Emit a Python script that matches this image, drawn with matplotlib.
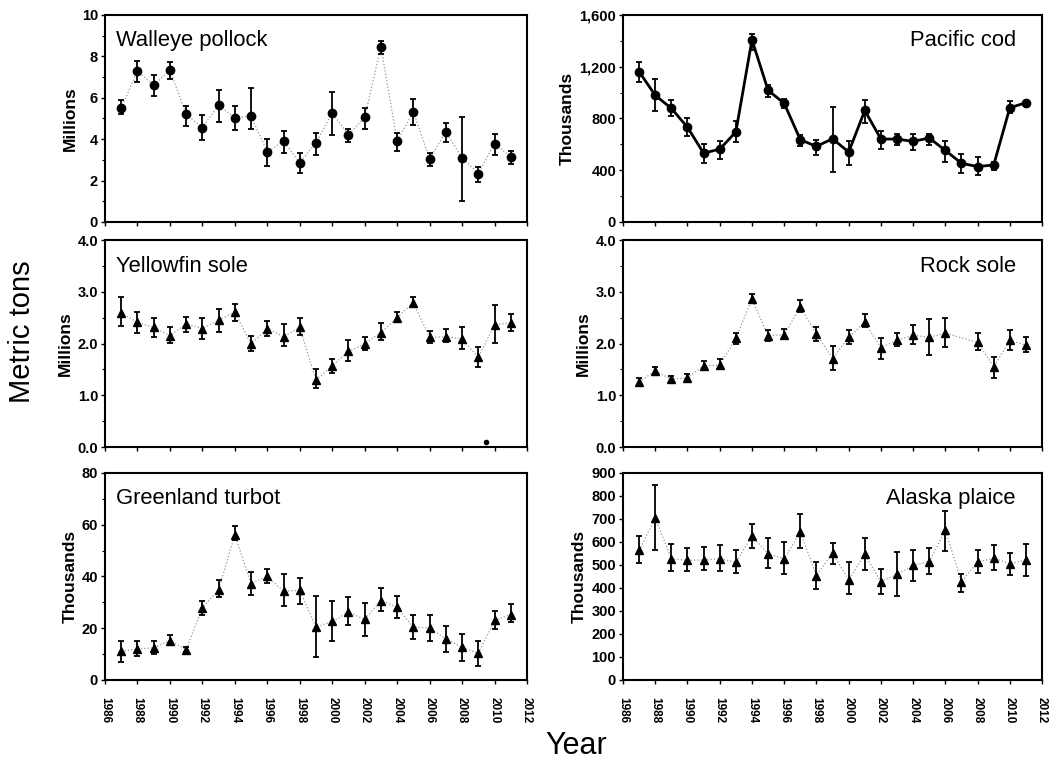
import matplotlib
matplotlib.use("Agg")
import matplotlib.pyplot as plt
from matplotlib.ticker import FuncFormatter, MultipleLocator
import numpy as np

plt.rcParams['font.family'] = ['Liberation Sans', 'DejaVu Sans']

years = list(range(1987, 2012))

# Walleye pollock (millions t)
pollock_val = [5.5, 7.3, 6.6, 7.35, 5.2, 4.56, 5.65, 5.03, 5.1, 3.39, 3.9, 2.87, 3.82, 5.27,
               4.22, 5.05, 8.47, 3.9, 5.32, 3.06, 4.35, 3.1, 2.34, 3.79, 3.15]
pollock_hi = [5.9, 7.8, 7.1, 7.75, 5.6, 5.16, 6.37, 5.6, 6.45, 4.03, 4.4, 3.34, 4.32, 6.29,
              4.5, 5.53, 8.76, 4.32, 5.94, 3.35, 4.8, 5.08, 2.66, 4.27, 3.42]
pollock_lo = [5.2, 6.75, 6.1, 6.9, 4.65, 3.95, 4.84, 4.43, 4.48, 2.71, 3.34, 2.37, 3.23, 4.19,
              3.87, 4.5, 8.11, 3.42, 4.68, 2.69, 3.87, 1.02, 1.94, 3.26, 2.82]

# Pacific cod (thousands t)
cod_val = [1161, 979, 878, 732, 532, 563, 696, 1408, 1018, 917, 636, 584, 644, 540,
           862, 641, 641, 623, 649, 553, 454, 428, 441, 883, 922]
cod_hi = [1234, 1104, 940, 800, 602, 628, 779, 1454, 1060, 948, 675, 636, 888, 623,
          943, 706, 680, 680, 680, 623, 525, 499, 467, 935, 935]
cod_lo = [1083, 857, 818, 662, 454, 488, 618, 1330, 966, 878, 590, 519, 384, 441,
          766, 566, 592, 558, 597, 467, 377, 364, 402, 844, 909]

# Yellowfin sole (millions t)
yfs_val = [2.59, 2.41, 2.31, 2.15, 2.38, 2.29, 2.45, 2.61, 1.99, 2.29, 2.13, 2.31, 1.29, 1.57,
           1.85, 1.99, 2.21, 2.5, 2.79, 2.12, 2.13, 2.09, 1.73, 2.36, 2.4]
yfs_hi = [2.9, 2.61, 2.49, 2.31, 2.52, 2.5, 2.66, 2.77, 2.15, 2.43, 2.37, 2.49, 1.5, 1.7,
          2.06, 2.13, 2.39, 2.61, 2.9, 2.25, 2.29, 2.31, 1.93, 2.74, 2.57]
yfs_lo = [2.33, 2.2, 2.12, 2.01, 2.23, 2.08, 2.23, 2.43, 1.85, 2.15, 1.96, 2.17, 1.14, 1.43,
          1.67, 1.87, 2.07, 2.42, 2.7, 2.01, 2.02, 1.89, 1.55, 2.01, 2.25]
yfs_stray_year = [2009.5]
yfs_stray_val = [0.1]

# Rock sole (millions t), no 2007
rock_years = [y for y in years if y != 2007]
rock_val = [1.26, 1.47, 1.31, 1.34, 1.57, 1.58, 2.1, 2.86, 2.15, 2.17, 2.71, 2.18, 1.71, 2.12,
            2.41, 1.92, 2.06, 2.16, 2.12, 2.2, 2.02, 1.55, 2.06, 1.97]
rock_hi = [1.33, 1.55, 1.38, 1.41, 1.67, 1.7, 2.21, 2.95, 2.26, 2.28, 2.84, 2.31, 1.95, 2.26,
           2.57, 2.1, 2.21, 2.36, 2.47, 2.49, 2.21, 1.73, 2.26, 2.13]
rock_lo = [1.2, 1.41, 1.25, 1.29, 1.49, 1.5, 1.99, 2.78, 2.05, 2.08, 2.6, 2.04, 1.49, 1.99,
           2.31, 1.71, 1.95, 1.99, 1.78, 1.94, 1.87, 1.34, 1.87, 1.83]

# Greenland turbot (thousands t)
gt_val = [11.1, 12.0, 12.4, 15.2, 11.7, 27.9, 34.8, 56.1, 37.2, 40.0, 34.3, 34.6, 20.4, 22.6,
          26.2, 23.4, 30.7, 28.1, 20.4, 20.1, 15.9, 12.6, 10.3, 23.0, 25.3]
gt_hi = [15.2, 15.0, 15.2, 17.2, 12.6, 30.7, 38.5, 59.4, 41.7, 43.0, 40.8, 39.4, 32.6, 30.5,
         32.0, 29.7, 35.6, 32.6, 25.3, 25.2, 21.0, 17.8, 15.0, 26.5, 29.2]
gt_lo = [6.8, 9.4, 10.1, 13.9, 10.7, 25.3, 32.0, 54.2, 33.0, 37.4, 28.4, 29.4, 8.8, 15.0,
         21.4, 16.9, 26.6, 24.0, 15.9, 15.2, 10.7, 7.5, 5.5, 19.7, 22.3]

# Alaska plaice (thousands t)
ap_val = [563, 704, 527, 520, 522, 527, 512, 625, 549, 527, 643, 454, 552, 435, 546, 428,
          459, 498, 515, 650, 428, 512, 530, 505, 522]
ap_hi = [624, 849, 592, 575, 580, 588, 563, 676, 617, 599, 723, 515, 597, 512, 618, 483,
         556, 563, 573, 733, 459, 563, 588, 553, 592]
ap_lo = [508, 566, 473, 473, 479, 473, 464, 575, 488, 462, 575, 396, 502, 374, 479, 374,
         364, 430, 462, 560, 382, 464, 479, 457, 450]

fig = plt.figure(figsize=(10.51, 7.6), dpi=100)

L1, W1 = 0.0999, 0.4015
L2, W2 = 0.5928, 0.3987
H = 0.2724
B = [0.7079, 0.4118, 0.1053]

panels = [
    dict(pos=[L1, B[0], W1, H], x=years, v=pollock_val, hi=pollock_hi, lo=pollock_lo,
         marker='o', name='Walleye pollock', loc='left', ylim=(0, 10), step=2, minor=1,
         fmt=lambda v, p: f"{v:.0f}", ylabel='Millions', solid=False),
    dict(pos=[L2, B[0], W2, H], x=years, v=cod_val, hi=cod_hi, lo=cod_lo,
         marker='o', name='Pacific cod', loc='right', ylim=(0, 1600), step=400, minor=200,
         fmt=lambda v, p: f"{v:,.0f}", ylabel='Thousands', solid=True),
    dict(pos=[L1, B[1], W1, H], x=years, v=yfs_val, hi=yfs_hi, lo=yfs_lo,
         marker='^', name='Yellowfin sole', loc='left', ylim=(0, 4), step=1, minor=0.5,
         fmt=lambda v, p: f"{v:.1f}", ylabel='Millions', solid=False),
    dict(pos=[L2, B[1], W2, H], x=rock_years, v=rock_val, hi=rock_hi, lo=rock_lo,
         marker='^', name='Rock sole', loc='right', ylim=(0, 4), step=1, minor=0.5,
         fmt=lambda v, p: f"{v:.1f}", ylabel='Millions', solid=False),
    dict(pos=[L1, B[2], W1, H], x=years, v=gt_val, hi=gt_hi, lo=gt_lo,
         marker='^', name='Greenland turbot', loc='left', ylim=(0, 80), step=20, minor=10,
         fmt=lambda v, p: f"{v:.0f}", ylabel='Thousands', solid=False),
    dict(pos=[L2, B[2], W2, H], x=years, v=ap_val, hi=ap_hi, lo=ap_lo,
         marker='^', name='Alaska plaice', loc='right', ylim=(0, 900), step=100, minor=None,
         fmt=lambda v, p: f"{v:.0f}", ylabel='Thousands', solid=False),
]

for i, p in enumerate(panels):
    ax = fig.add_axes(p['pos'])
    x = np.array(p['x'])
    v = np.array(p['v'])
    hi = np.array(p['hi'])
    lo = np.array(p['lo'])
    if p['solid']:
        ax.plot(x, v, '-', color='black', lw=2.0, zorder=2)
    else:
        ax.plot(x, v, ':', color='#999999', lw=0.9, zorder=1)
    ax.errorbar(x, v, yerr=[v - lo, hi - v], fmt='none', ecolor='black',
                elinewidth=1.3, capsize=2.5, capthick=1.3, zorder=3)
    ax.plot(x, v, linestyle='none', marker=p['marker'], color='black', ms=6, zorder=4)
    if p['name'] == 'Yellowfin sole':
        ax.plot(yfs_stray_year, yfs_stray_val, linestyle='none', marker='o',
                color='black', ms=3, zorder=4)
    ax.set_xlim(1986, 2012)
    ax.set_ylim(*p['ylim'])
    ax.xaxis.set_major_locator(MultipleLocator(2))
    ax.yaxis.set_major_locator(MultipleLocator(p['step']))
    if p['minor']:
        ax.yaxis.set_minor_locator(MultipleLocator(p['minor']))
    ax.yaxis.set_major_formatter(FuncFormatter(p['fmt']))
    ax.tick_params(axis='both', which='major', direction='out', length=3, width=1,
                   labelsize=10.5, pad=2)
    ax.tick_params(axis='y', which='minor', direction='out', length=2, width=0.8)
    for lab in ax.get_yticklabels():
        lab.set_fontweight('bold')
    if i >= 4:
        ax.tick_params(axis='x', labelrotation=-90, pad=9)
        for lab in ax.get_xticklabels():
            lab.set_fontweight('bold')
            lab.set_fontsize(8.5)
    else:
        ax.tick_params(axis='x', labelbottom=False)
    for s in ax.spines.values():
        s.set_linewidth(1.5)
    ax.set_ylabel(p['ylabel'], fontsize=12.5, fontweight='bold', labelpad=3)
    if p['loc'] == 'left':
        ax.text(0.025, 0.925, p['name'], transform=ax.transAxes, fontsize=15.8,
                ha='left', va='top')
    else:
        ax.text(0.937, 0.925, p['name'], transform=ax.transAxes, fontsize=15.8,
                ha='right', va='top')

fig.text(0.021, 0.563, 'Metric tons', rotation=90, fontsize=21, ha='center', va='center')
fig.text(0.548, 0.008, 'Year', fontsize=22, ha='center', va='baseline')

fig.savefig('out.png', dpi=100)
